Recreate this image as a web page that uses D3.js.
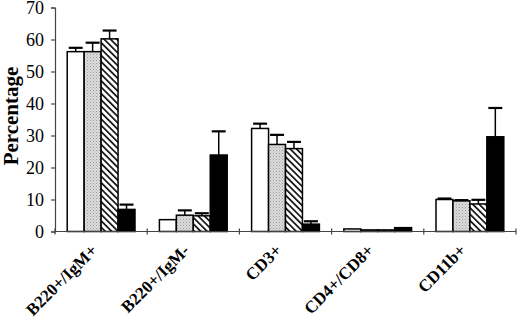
<!DOCTYPE html>
<html><head><meta charset="utf-8">
<script src="https://cdn.jsdelivr.net/npm/d3@7"></script>
<style>
html,body{margin:0;padding:0;background:#fff;}
svg{display:block;}
</style></head>
<body>
<svg id="chart" width="520" height="324"></svg>
<script>
const categories = ["B220+/IgM+", "B220+/IgM-", "CD3+", "CD4+/CD8+", "CD11b+"];
const seriesNames = ["open", "stippled", "hatched", "solid"];
const openValues     = [56.2, 3.7, 32.2, 0.8, 10.0];
const openErrors     = [1.2, 0.0, 1.5, 0.0, 0.3];
const stippledValues = [56.2, 5.1, 27.2, 0.5, 9.6];
const stippledErrors = [2.8, 1.5, 3.0, 0.0, 0.2];
const hatchedValues  = [60.2, 4.9, 25.9, 0.5, 8.6];
const hatchedErrors  = [2.6, 0.8, 2.1, 0.0, 1.3];
const solidValues    = [6.9, 23.9, 2.3, 1.2, 29.6];
const solidErrors    = [1.5, 7.4, 0.9, 0.0, 9.0];
const yTicks = [0, 10, 20, 30, 40, 50, 60, 70];
const yLabel = "Percentage";

const valueSets = [openValues, stippledValues, hatchedValues, solidValues];
const errorSets = [openErrors, stippledErrors, hatchedErrors, solidErrors];
const fills = ["#fff", "url(#stipple)", "url(#hatch)", "#000"];

const svg = d3.select("#chart");
const defs = svg.append("defs");
const st = defs.append("pattern").attr("id", "stipple").attr("patternUnits", "userSpaceOnUse")
  .attr("width", 3).attr("height", 3);
st.append("rect").attr("width", 3).attr("height", 3).attr("fill", "#dcdcdc");
st.append("rect").attr("x", 0).attr("y", 0).attr("width", 1).attr("height", 1).attr("fill", "#9a9a9a");
st.append("rect").attr("x", 1.5).attr("y", 1.5).attr("width", 1).attr("height", 1).attr("fill", "#b0b0b0");
const ht = defs.append("pattern").attr("id", "hatch").attr("patternUnits", "userSpaceOnUse")
  .attr("width", 4.5).attr("height", 4.5).attr("patternTransform", "rotate(-45)");
ht.append("rect").attr("width", 4.5).attr("height", 4.5).attr("fill", "#fff");
ht.append("rect").attr("x", 0).attr("y", 0).attr("width", 1.7).attr("height", 4.5).attr("fill", "#111");

const plotLeft = 55, plotRight = 516, plotTop = 7.5, plotBottom = 231.5;
const x = d3.scaleBand().domain(categories).range([plotLeft, plotRight]).paddingInner(0).paddingOuter(0);
const xs = d3.scaleBand().domain(seriesNames).range([0, x.bandwidth()]).paddingInner(0).paddingOuter(0.72);
const y = d3.scaleLinear().domain([0, 70]).range([plotBottom, plotTop]);

// bars
seriesNames.forEach((s, si) => {
  const g = svg.append("g");
  const data = categories.map((c, ci) => ({c, v: valueSets[si][ci], e: errorSets[si][ci]}));
  g.selectAll("rect").data(data).join("rect")
    .attr("x", d => x(d.c) + xs(s))
    .attr("y", d => y(d.v))
    .attr("width", xs.bandwidth())
    .attr("height", d => y(0) - y(d.v))
    .attr("fill", fills[si])
    .attr("stroke", "#000").attr("stroke-width", 1.5);
  const eb = data.filter(d => d.e > 0);
  g.selectAll("line.stem").data(eb).join("line").attr("class", "stem")
    .attr("x1", d => x(d.c) + xs(s) + xs.bandwidth() / 2)
    .attr("x2", d => x(d.c) + xs(s) + xs.bandwidth() / 2)
    .attr("y1", d => y(d.v)).attr("y2", d => y(d.v + d.e))
    .attr("stroke", "#000").attr("stroke-width", 1.5);
  g.selectAll("line.cap").data(eb).join("line").attr("class", "cap")
    .attr("x1", d => x(d.c) + xs(s) + 1.5)
    .attr("x2", d => x(d.c) + xs(s) + xs.bandwidth() - 1.5)
    .attr("y1", d => y(d.v + d.e)).attr("y2", d => y(d.v + d.e))
    .attr("stroke", "#000").attr("stroke-width", 2.2);
});

// y axis
const yAxis = svg.append("g").attr("transform", `translate(${plotLeft},0)`)
  .call(d3.axisLeft(y).tickValues(yTicks).tickSize(4).tickPadding(7).tickFormat(d3.format("d")));
yAxis.select(".domain").attr("stroke", "#444").attr("stroke-width", 1.2);
yAxis.selectAll(".tick line").attr("stroke", "#444").attr("stroke-width", 1.2);
yAxis.selectAll("text").attr("font-family", "'Liberation Serif', serif").attr("font-size", 18).attr("fill", "#000");

// x axis
const xAxisG = svg.append("g");
xAxisG.append("line").attr("x1", plotLeft).attr("x2", plotRight).attr("y1", plotBottom).attr("y2", plotBottom)
  .attr("stroke", "#444").attr("stroke-width", 1.2);
const bounds = categories.map(c => x(c)).concat([x(categories[categories.length - 1]) + x.bandwidth()]);
xAxisG.selectAll("line.tk").data(bounds).join("line").attr("class", "tk")
  .attr("x1", d => d).attr("x2", d => d).attr("y1", plotBottom - 3).attr("y2", plotBottom + 3)
  .attr("stroke", "#444").attr("stroke-width", 1.2);
xAxisG.selectAll("text").data(categories).join("text")
  .attr("transform", c => `translate(${x(c) + x.bandwidth() / 2 - 3},${plotBottom + 20}) rotate(-45)`)
  .attr("text-anchor", "end")
  .attr("font-family", "'Liberation Serif', serif").attr("font-weight", "bold").attr("font-size", 17)
  .attr("fill", "#000")
  .text(c => c);

svg.append("text").attr("transform", `translate(18,116) rotate(-90)`)
  .attr("text-anchor", "middle")
  .attr("font-family", "'Liberation Serif', serif").attr("font-weight", "bold").attr("font-size", 21)
  .attr("fill", "#000").text(yLabel);
</script>
</body></html>
